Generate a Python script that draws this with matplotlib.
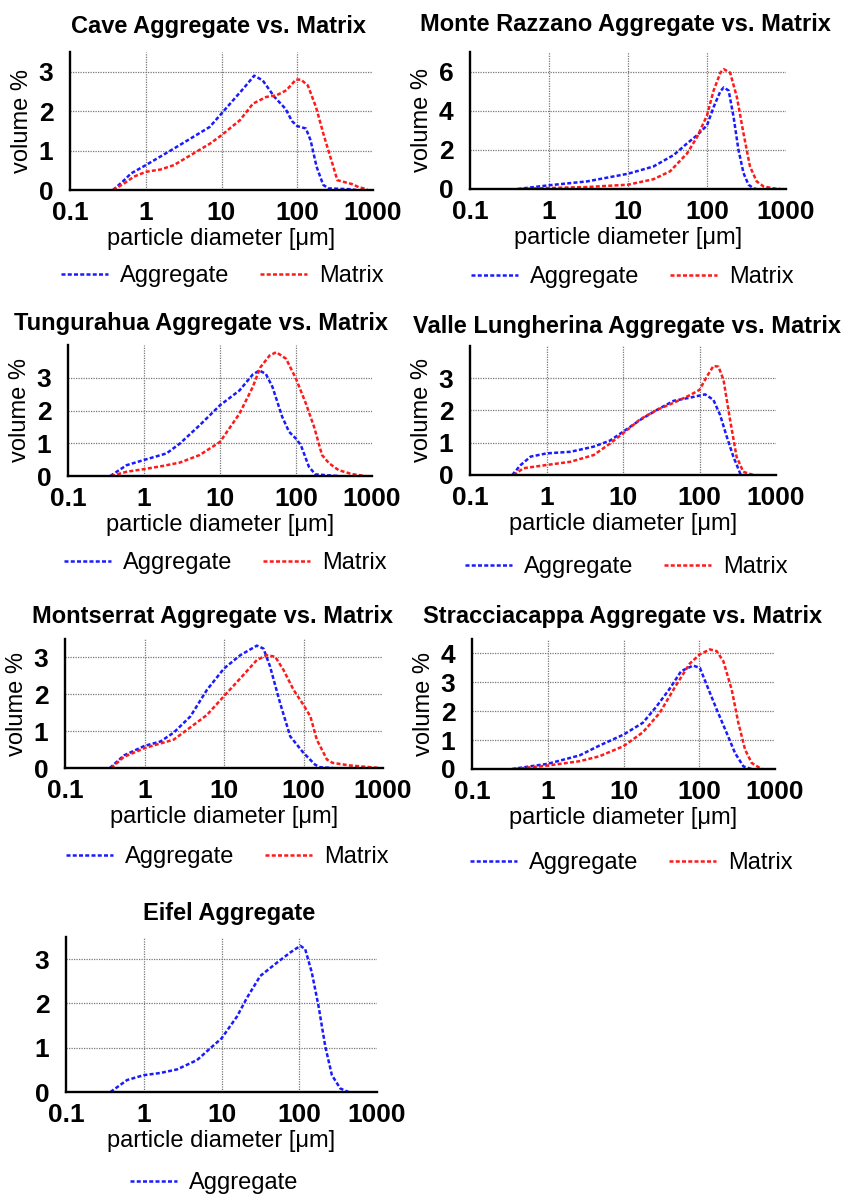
import numpy as np
import matplotlib
matplotlib.use("Agg")
import matplotlib.pyplot as plt

plt.rcParams['font.family'] = ['Liberation Sans', 'DejaVu Sans']

W, H = 846, 1195

# ---- data (diameter in um, volume %) ----
cave_agg_x = [0.37, 0.5, 0.64, 1.0, 2.35, 7.0, 10, 20, 27, 35, 50, 70, 85, 100, 130, 150, 180, 220, 260, 500, 600]
cave_agg_y = [0.0, 0.22, 0.42, 0.63, 1.05, 1.6, 1.94, 2.6, 2.9, 2.78, 2.36, 2.06, 1.75, 1.62, 1.56, 1.26, 0.59, 0.13, 0.04, 0.02, 0.0]
cave_mat_x = [0.37, 0.52, 0.7, 1.0, 1.57, 2.35, 4.3, 7.1, 10, 17.5, 26, 39, 53, 72, 96, 112, 138, 177, 227, 291, 338, 440, 530, 650, 840]
cave_mat_y = [0.0, 0.17, 0.34, 0.46, 0.52, 0.63, 0.93, 1.18, 1.39, 1.77, 2.19, 2.36, 2.4, 2.53, 2.8, 2.8, 2.65, 2.1, 1.35, 0.67, 0.25, 0.19, 0.15, 0.07, 0.02]

monte_agg_x = [0.4, 1.0, 3.05, 10, 21, 38, 56, 75, 100, 121, 148, 163, 188, 217, 250, 290, 335, 390, 420]
monte_agg_y = [0.0, 0.19, 0.39, 0.78, 1.15, 1.74, 2.33, 2.75, 3.25, 4.18, 5.0, 5.19, 5.03, 3.68, 2.0, 0.81, 0.22, 0.03, 0.0]
monte_mat_x = [0.44, 1.0, 3.0, 10, 21, 34, 56, 75, 100, 121, 148, 163, 196, 239, 290, 350, 425, 520, 700, 850]
monte_mat_y = [0.0, 0.05, 0.1, 0.22, 0.5, 0.9, 1.82, 2.66, 3.76, 5.02, 5.95, 6.12, 5.95, 4.69, 2.83, 1.15, 0.39, 0.13, 0.03, 0.0]

tung_agg_x = [0.36, 0.59, 1.0, 1.98, 2.96, 5.4, 10, 18, 27, 33, 40, 49, 66, 81, 100, 116, 148, 180, 363]
tung_agg_y = [0.0, 0.33, 0.49, 0.69, 0.99, 1.55, 2.16, 2.61, 3.1, 3.22, 3.12, 2.72, 1.8, 1.35, 1.14, 0.94, 0.28, 0.05, 0.0]
tung_mat_x = [0.37, 0.59, 1.0, 1.8, 2.96, 5.4, 10, 18, 27, 34, 45, 55, 74, 100, 135, 173, 220, 272, 363, 540, 820]
tung_mat_y = [0.0, 0.13, 0.21, 0.31, 0.41, 0.64, 1.04, 1.9, 2.72, 3.32, 3.68, 3.78, 3.58, 2.97, 2.21, 1.5, 0.64, 0.39, 0.18, 0.06, 0.0]

valle_agg_x = [0.356, 0.46, 0.62, 1.0, 2.06, 4.15, 6.8, 10, 16.8, 27.8, 46, 75.6, 118.6, 152, 186, 227, 277, 340, 350]
valle_agg_y = [0.0, 0.31, 0.57, 0.67, 0.72, 0.88, 1.07, 1.34, 1.71, 2.02, 2.3, 2.4, 2.5, 2.33, 1.86, 1.19, 0.57, 0.05, 0.0]
valle_mat_x = [0.37, 0.5, 1.0, 2.06, 4.15, 6.8, 10, 16.8, 27.8, 46, 75.6, 100, 124.6, 152, 177, 206, 251, 305, 373, 506]
valle_mat_y = [0.0, 0.21, 0.31, 0.41, 0.62, 0.98, 1.29, 1.73, 2.02, 2.24, 2.48, 2.64, 3.05, 3.38, 3.36, 2.95, 1.71, 0.57, 0.1, 0.0]

monts_agg_x = [0.367, 0.55, 1.0, 1.59, 2.33, 3.78, 6.1, 10, 16, 25.9, 31.4, 38, 50.8, 68, 100, 140, 162, 235]
monts_agg_y = [0.0, 0.34, 0.6, 0.72, 0.96, 1.4, 2.12, 2.7, 3.06, 3.32, 3.24, 2.75, 1.76, 0.86, 0.41, 0.09, 0.02, 0.0]
monts_mat_x = [0.38, 0.55, 1.0, 2.33, 4.16, 6.1, 10, 16, 25.9, 34.5, 44, 56, 75, 100, 122, 147, 197, 232, 380, 620, 900]
monts_mat_y = [0.0, 0.3, 0.54, 0.77, 1.17, 1.44, 1.95, 2.43, 2.93, 3.06, 3.02, 2.66, 2.12, 1.71, 1.4, 0.77, 0.23, 0.14, 0.07, 0.03, 0.0]

strac_agg_x = [0.337, 1.0, 2.63, 4.8, 10, 18, 27, 40.5, 57.8, 83, 102, 125, 170, 230, 297, 383, 490]
strac_agg_y = [0.0, 0.18, 0.47, 0.81, 1.19, 1.6, 2.15, 2.77, 3.39, 3.58, 3.5, 2.92, 2.06, 1.25, 0.55, 0.09, 0.0]
strac_mat_x = [0.36, 1.0, 2.63, 4.8, 10, 18, 30, 50, 75, 102, 138, 170, 208, 268, 328, 403, 492, 635, 680]
strac_mat_y = [0.0, 0.12, 0.27, 0.44, 0.79, 1.27, 1.94, 2.92, 3.65, 3.97, 4.14, 4.08, 3.73, 2.75, 1.6, 0.67, 0.21, 0.03, 0.0]

eifel_agg_x = [0.373, 0.61, 1.0, 1.64, 2.68, 4.84, 7.2, 10, 15.9, 21.3, 31.5, 51.6, 76.6, 103, 119, 145, 177, 216, 263, 337, 409, 430]
eifel_agg_y = [0.0, 0.27, 0.38, 0.43, 0.51, 0.72, 0.99, 1.21, 1.71, 2.13, 2.62, 2.92, 3.15, 3.3, 3.23, 2.7, 1.94, 1.03, 0.38, 0.08, 0.015, 0.0]

panels = [
    # title, agg, matrix, ylim, yticks, axes box px (l, r, t, b), title centre x px, title baseline px, legend centre px, ylabel
    ("Cave Aggregate vs. Matrix", (cave_agg_x, cave_agg_y), (cave_mat_x, cave_mat_y),
     3.5, [0, 1, 2, 3], (70, 373, 52, 190), 218, 33, (222, 276), True),
    ("Monte Razzano Aggregate vs. Matrix", (monte_agg_x, monte_agg_y), (monte_mat_x, monte_mat_y),
     7, [0, 2, 4, 6], (470, 786, 52, 189), 625, 31, (632, 277), True),
    ("Tungurahua Aggregate vs. Matrix", (tung_agg_x, tung_agg_y), (tung_mat_x, tung_mat_y),
     4, [0, 1, 2, 3], (68, 372, 345, 476), 201, 330, (225, 563), True),
    ("Valle Lungherina Aggregate vs. Matrix", (valle_agg_x, valle_agg_y), (valle_mat_x, valle_mat_y),
     4, [0, 1, 2, 3], (470, 776, 346, 475), 627, 333, (626, 567), True),
    ("Montserrat Aggregate vs. Matrix", (monts_agg_x, monts_agg_y), (monts_mat_x, monts_mat_y),
     3.5, [0, 1, 2, 3], (65, 383, 639, 768), 213, 623, (227, 857), True),
    ("Stracciacappa Aggregate vs. Matrix", (strac_agg_x, strac_agg_y), (strac_mat_x, strac_mat_y),
     4.5, [0, 1, 2, 3, 4], (472, 775, 639, 769), 623, 623, (631, 863), True),
    ("Eifel Aggregate", (eifel_agg_x, eifel_agg_y), None,
     3.5, [0, 1, 2, 3], (66, 377, 937, 1092), 229, 920, (214, 1183), False),
]

FS = 17
TICK_FS = 19
LW = 1.8
DASH = (1.6, 0.9)

fig = plt.figure(figsize=(W / 100, H / 100), dpi=100)

for title, agg, mat, ytop, yticks, box, tx, ty, leg, ylab in panels:
    l, r, t, b = box
    ax = fig.add_axes([l / W, 1 - b / H, (r - l) / W, (b - t) / H])
    ax.set_xscale('log')
    ax.set_xlim(0.1, 1000)
    ax.set_ylim(0, ytop)
    ax.set_xticks([0.1, 1, 10, 100, 1000])
    ax.set_xticklabels(['0.1', '1', '10', '100', '1000'])
    ax.set_yticks(yticks)
    ax.minorticks_off()
    ax.tick_params(axis='both', length=0, labelsize=TICK_FS)
    ax.tick_params(axis='x', pad=8)
    ax.tick_params(axis='y', pad=12)
    for lab in ax.get_xticklabels() + ax.get_yticklabels():
        lab.set_fontweight('bold')

    # dotted grid
    for gx in [1, 10, 100]:
        ax.axvline(gx, color='#777777', lw=0.9, dashes=(1, 1), zorder=1)
    for gy in yticks[1:]:
        ax.axhline(gy, color='#777777', lw=0.9, dashes=(1, 1), zorder=1)

    for side in ['top', 'right']:
        ax.spines[side].set_visible(False)
    for side in ['left', 'bottom']:
        ax.spines[side].set_linewidth(1.7)
        ax.spines[side].set_zorder(5)

    ax.plot(agg[0], agg[1], color='#1a1aff', lw=LW, dashes=DASH, label='Aggregate', zorder=3)
    if mat is not None:
        ax.plot(mat[0], mat[1], color='#ff1a1a', lw=LW, dashes=DASH, label='Matrix', zorder=3)

    ax.set_xlabel('particle diameter [\u03bcm]', fontsize=FS, labelpad=2)
    if ylab:
        ax.set_ylabel('volume %', fontsize=FS, labelpad=4)

    fig.text(tx / W, 1 - ty / H, title, fontsize=FS, fontweight='bold', ha='center', va='baseline')

    ax.legend(loc='center', bbox_to_anchor=(leg[0] / W, 1 - leg[1] / H), bbox_transform=fig.transFigure,
              ncol=2, frameon=False, fontsize=FS, handlelength=2.0, handletextpad=0.5,
              columnspacing=1.3, borderpad=0, borderaxespad=0)

fig.savefig('out.png', dpi=100)
